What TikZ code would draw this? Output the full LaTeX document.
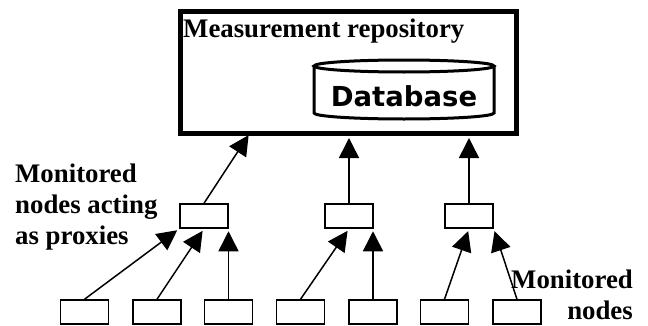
\documentclass[tikz,border=0pt]{standalone}
\usepackage{fontspec}
\setmainfont{Liberation Serif}
\newfontfamily\dbfont{DejaVu Sans}
\usetikzlibrary{arrows.meta}
\def\labelfont{\bfseries\fontsize{26.8}{31}\selectfont}
\def\proxynode{\node[draw, line width=1.5pt, minimum width=48pt, minimum height=24pt]}
\def\leafnode{\node[draw, line width=1.5pt, minimum width=48pt, minimum height=24pt]}
\def\drawarrow{\draw[line width=1.5pt, -{Triangle[length=20pt,width=20pt]}, shorten >=2.5pt]}
\def\drawcyl{\draw[line width=3pt]}

\begin{document}
\begin{tikzpicture}[x=1pt, y=1pt, inner sep=0pt]
\useasboundingbox (0,0) rectangle (648,325);
\node (repo) [draw, line width=5pt, minimum width=336pt, minimum height=122pt] at (348,253) {};
\node (title) [anchor=base west, font=\labelfont] at (183,288) {Measurement repository};
\node (db) [anchor=base, font=\dbfont\bfseries\fontsize{27.5}{30}\selectfont] at (404,219) {Database};
\drawcyl (404,259) ellipse [x radius=90, y radius=6];
\drawcyl (314,259) -- (314,212) arc [start angle=180, end angle=360, x radius=90, y radius=6] -- (494,259);
\proxynode (p1) at (204,109) {};
\proxynode (p2) at (349,109) {};
\proxynode (p3) at (469,109) {};
\leafnode (m1) at (84.5,13) {};
\leafnode (m2) at (157,13) {};
\leafnode (m3) at (228.5,13) {};
\leafnode (m4) at (300.5,13) {};
\leafnode (m5) at (373,13) {};
\leafnode (m6) at (444.5,13) {};
\leafnode (m7) at (517,13) {};
\coordinate (r1) at (250,192);
\drawarrow (p1.north) -- (r1);
\drawarrow (p2.north) -- (p2.north |- repo.south);
\drawarrow (p3.north) -- (p3.north |- repo.south);
\drawarrow (m1.north) -- (p1.south west);
\drawarrow (m2.north) -- (p1.south);
\drawarrow (m3.north) -- (m3.north |- p1.south);
\drawarrow (m4.north) -- (p2.south);
\drawarrow (m5.north) -- (m5.north |- p2.south);
\drawarrow (m6.north) -- (p3.south);
\drawarrow (m7.north) -- (p3.south east);
\node (proxylabel) [anchor=north west, align=left, font=\labelfont] at (15,161) {Monitored\\nodes acting\\as proxies};
\node (leaflabel) [anchor=north east, align=right, font=\labelfont] at (633,55) {Monitored\\nodes};
\end{tikzpicture}
\end{document}
